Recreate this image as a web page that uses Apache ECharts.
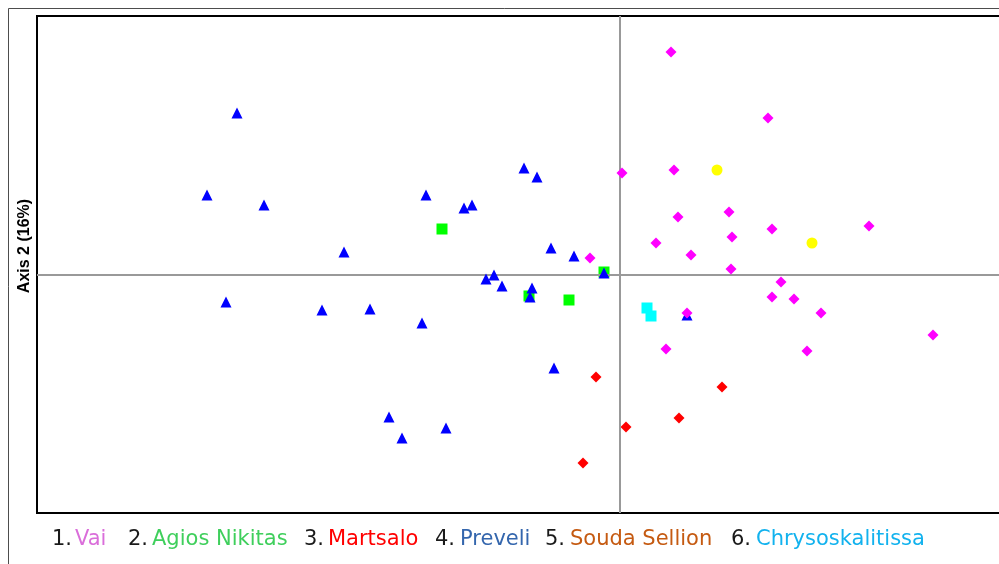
<!DOCTYPE html>
<html>
<head>
<meta charset="utf-8">
<script src="https://cdn.jsdelivr.net/npm/echarts@6/dist/echarts.min.js"></script>
<style>
  html, body { margin: 0; padding: 0; background: #ffffff; overflow: hidden; }
  #chart { width: 999px; height: 564px; }
</style>
</head>
<body>
<div id="chart"></div>
<script>
// Ordination scores (axis 1 horizontal, axis 2 vertical) per beach site
const siteNames = ['Vai', 'Agios Nikitas', 'Martsalo', 'Preveli', 'Souda Sellion', 'Chrysoskalitissa'];

const vaiX = [0.51, 1.48, 0.54, 0.02, 0.58, 1.09, 1.52, 2.49, 0.36, 0.71, 1.12, 1.11, -0.30, 1.61, 1.52, 1.74, 2.01, 0.67, 0.46, 1.87, 3.13];
const vaiY = [2.23, 1.57, 1.05, 1.02, 0.58, 0.63, 0.46, 0.49, 0.32, 0.20, 0.38, 0.06, 0.17, -0.07, -0.22, -0.24, -0.38, -0.38, -0.74, -0.76, -0.60];

const agiosX = [-1.78, -0.51, -0.16, -0.91];
const agiosY = [0.46, -0.25, 0.03, -0.21];

const martsaloX = [-0.24, 0.06, -0.37, 0.59, 1.02];
const martsaloY = [-1.02, -1.52, -1.88, -1.43, -1.12];

const preveliX = [-3.83, -4.13, -3.56, -1.94, -1.56, -1.48, -2.76, -3.94, -2.98, -2.50, -1.98, -0.96, -0.83, -0.69, -0.46, -0.16, -1.34, -1.26, -1.18, -0.88, -0.90, -0.66, -2.31, -2.18, -1.74, 0.67];
const preveliY = [1.62, 0.80, 0.70, 0.80, 0.67, 0.70, 0.23, -0.27, -0.35, -0.34, -0.48, 1.07, 0.98, 0.27, 0.19, 0.02, -0.04, 0.00, -0.11, -0.13, -0.22, -0.93, -1.42, -1.63, -1.53, -0.40];

const soudaX = [0.97, 1.92];
const soudaY = [1.05, 0.32];

const chrysoX = [0.27, 0.31];
const chrysoY = [-0.33, -0.41];

// Axis extents (the plot runs past the right edge of the page)
const xRange = [-5.83, 3.82];
const yRange = [-2.38, 2.59];

// Legend text colours (site names) and marker colours
const legendColors = ['#da6eda', '#3fcf5c', '#ff0000', '#3466ad', '#c55a11', '#12b2ee'];
const markerColors = { vai: '#ff00ff', agios: '#00ff00', martsalo: '#ff0000', preveli: '#0000ff', souda: '#ffff00', chryso: '#00ffff' };

function pairs(xs, ys) { return xs.map((x, i) => [x, ys[i]]); }

const chart = echarts.init(document.getElementById('chart'), null, { renderer: 'canvas' });

const hiddenAxis = {
  axisLine: { show: false },
  axisTick: { show: false },
  axisLabel: { show: false },
  splitLine: { show: false }
};

function scatter(name, data, symbol, color, z) {
  return {
    type: 'scatter', name, data, symbol, symbolSize: 11, z,
    itemStyle: { color, opacity: 1 },
    emphasis: { disabled: true },
    silent: true
  };
}

// Plot frame: black rules on the left, top and bottom, open on the right
const frameStyle = { stroke: '#000', lineWidth: 2 };
const frameGraphics = [
  { type: 'line', silent: true, shape: { x1: 37, y1: 16, x2: 37, y2: 514 }, style: frameStyle },
  { type: 'line', silent: true, shape: { x1: 36, y1: 16, x2: 1010, y2: 16 }, style: frameStyle },
  { type: 'line', silent: true, shape: { x1: 36, y1: 513, x2: 1010, y2: 513 }, style: frameStyle }
];

// Legend row at the bottom: numbered site names
const legendX = [[52, 75], [128, 152], [304, 328], [435, 460], [545, 570], [731, 756]];
const legendFont = '21px "DejaVu Sans"';
const legendGraphics = [];
siteNames.forEach((name, i) => {
  legendGraphics.push({
    type: 'text', x: legendX[i][0], y: 540,
    style: { text: (i + 1) + '.', font: legendFont, fill: '#1a1a1a', align: 'left', verticalAlign: 'middle' }
  });
  legendGraphics.push({
    type: 'text', x: legendX[i][1], y: 540,
    style: { text: name, font: legendFont, fill: legendColors[i], align: 'left', verticalAlign: 'middle' }
  });
});

const option = {
  animation: false,
  backgroundColor: '#ffffff',
  grid: {
    show: false, left: 37, top: 16, width: 965, height: 497,
    containLabel: false, outerBoundsMode: 'none'
  },
  xAxis: { type: 'value', min: xRange[0], max: xRange[1], ...hiddenAxis },
  yAxis: { type: 'value', min: yRange[0], max: yRange[1], ...hiddenAxis },
  graphic: [
    {
      type: 'polyline', z: -1, silent: true,
      shape: { points: [[8.5, 600], [8.5, 8.5], [1100, 8.5]] },
      style: { fill: null, stroke: '#4d4d4d', lineWidth: 1 }
    },
    ...frameGraphics,
    {
      type: 'text', x: 25, y: 246, rotation: Math.PI / 2,
      style: { text: 'Axis 2 (16%)', font: 'bold 16px "Liberation Sans"', fill: '#000', align: 'center', verticalAlign: 'middle' }
    },
    ...legendGraphics
  ],
  series: [
    {
      type: 'scatter', name: 'origin', data: [], z: 1, silent: true,
      markLine: {
        silent: true, symbol: 'none', animation: false,
        label: { show: false },
        lineStyle: { color: '#999999', width: 2, type: 'solid' },
        emphasis: { disabled: true },
        data: [{ xAxis: 0 }, { yAxis: 0 }]
      }
    },
    scatter(siteNames[1], pairs(agiosX, agiosY), 'rect', markerColors.agios, 3),
    scatter(siteNames[2], pairs(martsaloX, martsaloY), 'diamond', markerColors.martsalo, 4),
    scatter(siteNames[3], pairs(preveliX, preveliY), 'triangle', markerColors.preveli, 5),
    scatter(siteNames[4], pairs(soudaX, soudaY), 'circle', markerColors.souda, 6),
    scatter(siteNames[5], pairs(chrysoX, chrysoY), 'rect', markerColors.chryso, 7),
    scatter(siteNames[0], pairs(vaiX, vaiY), 'diamond', markerColors.vai, 8)
  ]
};

chart.setOption(option);
</script>
</body>
</html>
